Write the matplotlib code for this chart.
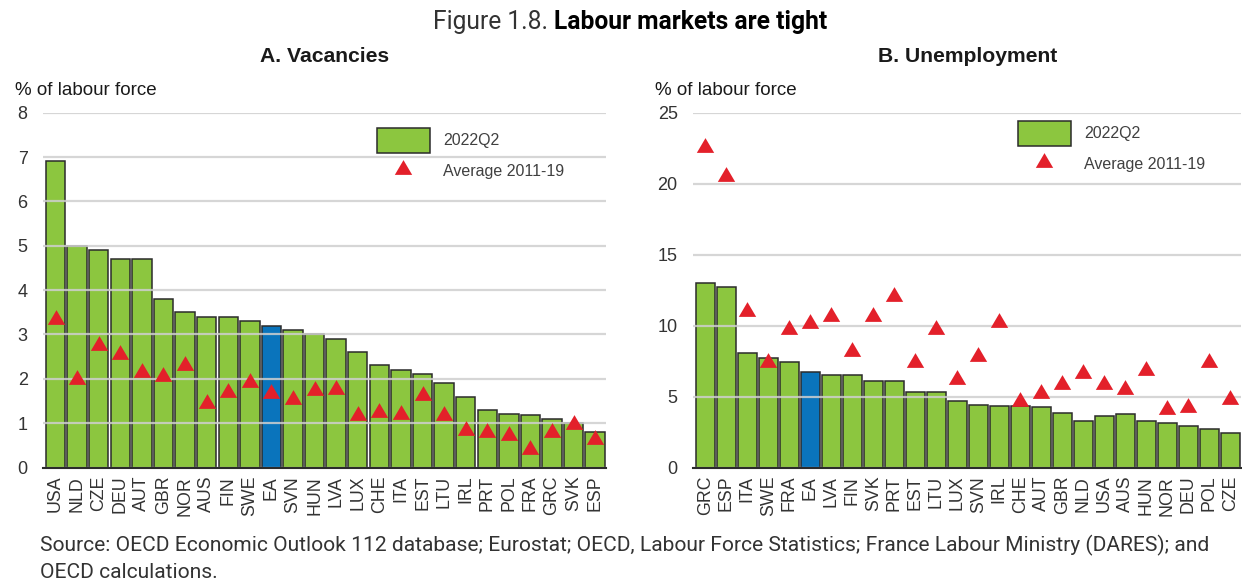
import matplotlib
matplotlib.use("Agg")
import matplotlib.pyplot as plt
from matplotlib.patches import Patch
from matplotlib.lines import Line2D

# ---------------- data ----------------
vac_countries = ["USA", "NLD", "CZE", "DEU", "AUT", "GBR", "NOR", "AUS", "FIN", "SWE", "EA", "SVN", "HUN",
                 "LVA", "LUX", "CHE", "ITA", "EST", "LTU", "IRL", "PRT", "POL", "FRA", "GRC", "SVK", "ESP"]
vac_2022q2 = [6.9, 5.0, 4.9, 4.7, 4.7, 3.8, 3.5, 3.4, 3.4, 3.3, 3.2, 3.1, 3.0,
              2.9, 2.6, 2.3, 2.2, 2.1, 1.9, 1.6, 1.3, 1.2, 1.18, 1.1, 1.0, 0.8]
vac_avg = [3.4, 2.05, 2.8, 2.6, 2.2, 2.1, 2.35, 1.5, 1.75, 1.97, 1.72, 1.58, 1.8,
           1.82, 1.22, 1.29, 1.25, 1.68, 1.22, 0.89, 0.84, 0.78, 0.47, 0.84, 1.03, 0.69]

unemp_countries = ["GRC", "ESP", "ITA", "SWE", "FRA", "EA", "LVA", "FIN", "SVK", "PRT", "EST", "LTU", "LUX",
                   "SVN", "IRL", "CHE", "AUT", "GBR", "NLD", "USA", "AUS", "HUN", "NOR", "DEU", "POL", "CZE"]
unemp_2022q2 = [13.0, 12.7, 8.1, 7.7, 7.4, 6.7, 6.5, 6.5, 6.1, 6.1, 5.35, 5.3, 4.7,
                4.4, 4.35, 4.3, 4.25, 3.85, 3.3, 3.6, 3.8, 3.3, 3.15, 2.95, 2.7, 2.4]
unemp_avg = [22.7, 20.7, 11.2, 7.6, 9.9, 10.3, 10.8, 8.35, 10.85, 12.25, 7.6, 9.9, 6.35,
             8.0, 10.4, 4.8, 5.4, 6.05, 6.8, 6.05, 5.7, 7.0, 4.25, 4.4, 7.55, 4.95]

vac_yticks = [0, 1, 2, 3, 4, 5, 6, 7, 8]
unemp_yticks = [0, 5, 10, 15, 20, 25]

# ---------------- style ----------------
GREEN = "#8CC63F"
BLUE = "#0A74BC"
RED = "#E3202A"
EDGE = "#2b2b2b"
GRID = "#cfcfcf"
TXT = "#333333"
TRI = [(-1, -0.85), (1, -0.85), (0, 0.85)]

plt.rcParams["font.family"] = ["Liberation Sans", "DejaVu Sans"]

W, H = 1242, 581
fig = plt.figure(figsize=(W / 100, H / 100), dpi=100)


def fx(px):
    return px / W


def fy(py):
    return 1 - py / H


def panel(left_px, right_px, countries, bars, avgs, yticks, title, title_x, unit_x, legend_xy):
    top_px, bot_px = 112.7, 467.5
    ax = fig.add_axes([fx(left_px), fy(bot_px), fx(right_px - left_px), (bot_px - top_px) / H])
    n = len(countries)
    x = list(range(n))
    colors = [BLUE if c == "EA" else GREEN for c in countries]
    ax.bar(x, bars, width=0.9, color=colors, edgecolor=EDGE, linewidth=1.1, zorder=2)
    ax.plot(x, avgs, linestyle="none", marker=TRI, markersize=12.5, color=RED,
            markeredgewidth=0, zorder=4)
    ax.set_xlim(-0.58, n - 0.5)
    ax.set_ylim(yticks[0], yticks[-1])
    ax.set_yticks(yticks)
    ax.set_yticklabels([str(t) for t in yticks], fontsize=13, color=TXT)
    ax.set_xticks(x)
    ax.set_xticklabels(countries, rotation=90, fontsize=12.8, color=TXT)
    ax.tick_params(axis="both", length=0)
    ax.tick_params(axis="y", pad=11)
    ax.tick_params(axis="x", pad=6)
    ax.yaxis.grid(True, color=GRID, linewidth=1.6, zorder=3, alpha=0.85)
    ax.set_axisbelow(False)
    for s in ["top", "right", "left"]:
        ax.spines[s].set_visible(False)
    ax.spines["bottom"].set_color(EDGE)
    ax.spines["bottom"].set_linewidth(1.5)
    ax.spines["bottom"].set_zorder(5)
    fig.text(fx(title_x), fy(56), title, ha="center", va="center",
             fontsize=15.2, fontweight="bold", color="#1a1a1a")
    fig.text(fx(unit_x), fy(91), "% of labour force", ha="left", va="center",
             fontsize=13.5, color="#1a1a1a")
    handles = [Patch(facecolor=GREEN, edgecolor=EDGE, linewidth=1.1),
               Line2D([], [], linestyle="none", marker=TRI, markersize=12.5, color=RED,
                      markeredgewidth=0)]
    leg = ax.legend(handles, ["2022Q2", "Average 2011-19"], loc="upper left",
                    bbox_to_anchor=(fx(legend_xy[0]), fy(legend_xy[1])),
                    bbox_transform=fig.transFigure, frameon=False, fontsize=11.5,
                    handlelength=3.3, handleheight=2.0, handletextpad=0.85,
                    labelspacing=0.35, borderpad=0, borderaxespad=0)
    for t in leg.get_texts():
        t.set_color("#404040")
    return ax


panel(43, 606, vac_countries, vac_2022q2, vac_avg, vac_yticks, "A. Vacancies", 325, 15, (377, 128))
panel(693, 1241, unemp_countries, unemp_2022q2, unemp_avg, unemp_yticks, "B. Unemployment", 968, 655,
      (1018, 121))

# ---------------- figure title ----------------
cond = ["Roboto", "DejaVu Sans"]
renderer = fig.canvas.get_renderer()
t1 = fig.text(0, fy(22), "Figure 1.8. ", fontsize=17.7, color="#333333", family=cond,
              ha="left", va="center")
t2 = fig.text(0, fy(22), "Labour markets are tight", fontsize=17.7, fontweight="bold",
              color="#000000", family=cond, ha="left", va="center")
w1 = t1.get_window_extent(renderer).width
w2 = t2.get_window_extent(renderer).width
start = 630 - (w1 + w2) / 2
t1.set_x(fx(start))
t2.set_x(fx(start + w1))

# ---------------- source ----------------
fig.text(fx(40), fy(545), "Source: OECD Economic Outlook 112 database; Eurostat; OECD, Labour Force "
         "Statistics; France Labour Ministry (DARES); and", fontsize=15.15, color="#333333",
         family=cond, ha="left", va="center")
fig.text(fx(40), fy(572), "OECD calculations.", fontsize=15.15, color="#333333",
         family=cond, ha="left", va="center")

fig.savefig("out.png", dpi=100)
